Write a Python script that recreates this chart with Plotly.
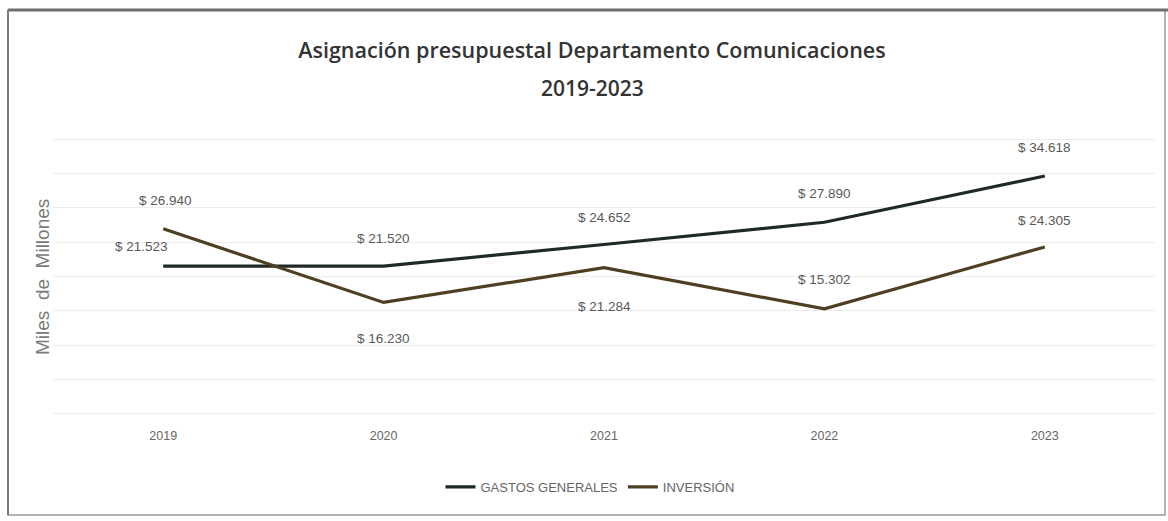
import plotly.graph_objects as go

years = ["2019", "2020", "2021", "2022", "2023"]
gastos = [21523, 21520, 24652, 27890, 34618]
inversion = [26940, 16230, 21284, 15302, 24305]
gastos_name = "GASTOS GENERALES"
inversion_name = "INVERSIÓN"
title_line1 = "Asignación presupuestal Departamento Comunicaciones"
title_line2 = "2019-2023"

W, H = 1168, 521
L, R, T, B = 53, 13, 137, 105
pw, ph = W - L - R, H - T - B

def px_x(p):
    return (p - L) / pw

def px_y(p):
    return (H - B - p) / ph

def fmt(v):
    return "$ " + f"{v:,}".replace(",", ".")

col_g = "#1f2a22"
col_i = "#4e3f22"
sans = "Liberation Sans, Arial, sans-serif"
lab_font = dict(family=sans, size=13.5, color="#595959")

fig = go.Figure()
fig.add_trace(go.Scatter(x=years, y=gastos, mode="lines", name=gastos_name,
                         line=dict(color=col_g, width=3.2)))
fig.add_trace(go.Scatter(x=years, y=inversion, mode="lines", name=inversion_name,
                         line=dict(color=col_i, width=3.2)))

g_off = [(-22, 20), (0, 28), (0, 27), (0, 29), (0, 29)]
i_off = [(2, 28), (0, -36), (0, -39), (0, 29), (0, 26)]
ann = []
for k, v in enumerate(gastos):
    ann.append(dict(x=k, y=v, text=fmt(v), showarrow=False, xshift=g_off[k][0],
                    yshift=g_off[k][1], font=lab_font))
for k, v in enumerate(inversion):
    ann.append(dict(x=k, y=v, text=fmt(v), showarrow=False, xshift=i_off[k][0],
                    yshift=i_off[k][1], font=lab_font))

ann.append(dict(xref="paper", yref="paper", x=px_x(42), y=px_y(277), text="Miles  de  Millones",
                textangle=-90, showarrow=False, xanchor="center", yanchor="middle",
                font=dict(family=sans, size=19, color="#7a7a7a")))
ann.append(dict(xref="paper", yref="paper", x=px_x(592), y=px_y(88), text=title_line2,
                showarrow=False, xanchor="center", yanchor="middle",
                font=dict(family="Open Sans, Liberation Sans, sans-serif", size=21, weight=600, color="#333333")))

shapes = [
    dict(type="rect", xref="paper", yref="paper", x0=px_x(8), x1=px_x(1165), y0=px_y(515), y1=px_y(10),
         line=dict(color="#9a9a9a", width=1.5), fillcolor="rgba(0,0,0,0)", layer="below"),
    dict(type="line", xref="paper", yref="paper", x0=px_x(8), x1=px_x(1168), y0=px_y(10), y1=px_y(10),
         line=dict(color="#6e6e6e", width=3)),
    dict(type="line", xref="paper", yref="paper", x0=px_x(8), x1=px_x(8), y0=px_y(515), y1=px_y(10),
         line=dict(color="#7a7a7a", width=2)),
]

fig.update_layout(
    width=W, height=H,
    margin=dict(l=L, r=R, t=T, b=B),
    paper_bgcolor="white", plot_bgcolor="white",
    title=dict(text=title_line1, xref="container", yref="container",
               x=592 / W, xanchor="center", y=1 - 50 / H, yanchor="middle",
               font=dict(family="Open Sans, Liberation Sans, sans-serif", size=21.5, weight=600, color="#333333")),
    xaxis=dict(type="category", range=[-0.5, 4.5], showgrid=False, zeroline=False, showline=False,
               ticks="", ticklabelstandoff=10,
               tickfont=dict(family=sans, size=12.5, color="#666666")),
    yaxis=dict(range=[-300, 40300], tick0=0, dtick=5000, showgrid=True, gridcolor="#ececec", gridwidth=1,
               showticklabels=False, zeroline=True, zerolinecolor="#ececec", zerolinewidth=1,
               showline=False, ticks=""),
    legend=dict(orientation="h", x=px_x(590), xanchor="center", y=px_y(487), yanchor="middle",
                font=dict(family=sans, size=13, color="#666666"),
                itemwidth=30, tracegroupgap=0, bgcolor="rgba(0,0,0,0)"),
    annotations=ann,
    shapes=shapes,
    showlegend=True,
)

fig.write_html("out.html", config={"displayModeBar": False},
               post_script="document.body.style.margin='0';")
